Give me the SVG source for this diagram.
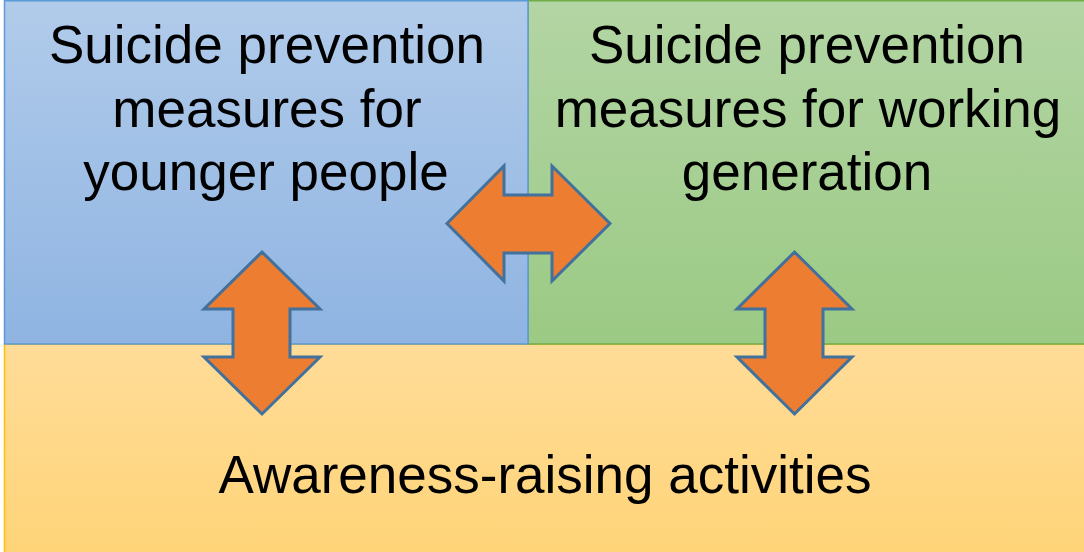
<svg xmlns="http://www.w3.org/2000/svg" width="1084" height="552" viewBox="0 0 1084 552">
  <defs>
    <linearGradient id="gBlue" x1="0" y1="0" x2="0" y2="1">
      <stop offset="0" stop-color="#b1cbea"/>
      <stop offset="1" stop-color="#8fb4e2"/>
    </linearGradient>
    <linearGradient id="gGreen" x1="0" y1="0" x2="0" y2="1">
      <stop offset="0" stop-color="#b3d5a4"/>
      <stop offset="1" stop-color="#9bca84"/>
    </linearGradient>
    <linearGradient id="gYellow" x1="0" y1="0" x2="0" y2="1">
      <stop offset="0" stop-color="#ffdc98"/>
      <stop offset="1" stop-color="#ffd478"/>
    </linearGradient>
    <style>
      .label { font-family: "Liberation Sans", Arial, sans-serif; font-size: 53px; fill: #000; text-anchor: middle; }
      .arrow { fill: #ed7d31; stroke: #41719c; stroke-width: 3; stroke-linejoin: miter; }
    </style>
  </defs>

  <!-- bottom band -->
  <g id="awareness">
    <rect x="4.5" y="344" width="1082" height="210" fill="url(#gYellow)" stroke="#ffc000" stroke-width="1.5"/>
    <text class="label" x="545" y="493">Awareness-raising activities</text>
  </g>

  <!-- upper right block -->
  <g id="working-generation">
    <rect x="528" y="0.75" width="558" height="343.25" fill="url(#gGreen)" stroke="#70ad47" stroke-width="1.5"/>
    <text class="label" x="807" y="63">Suicide prevention</text>
    <text class="label" x="808" y="127">measures for working</text>
    <text class="label" x="807" y="190">generation</text>
  </g>

  <!-- upper left block -->
  <g id="younger-people">
    <rect x="4.5" y="0.75" width="523.5" height="343.25" fill="url(#gBlue)" stroke="#5b9bd5" stroke-width="1.5"/>
    <text class="label" x="267" y="63">Suicide prevention</text>
    <text class="label" x="267" y="127">measures for</text>
    <text class="label" x="266" y="190">younger people</text>
  </g>

  <!-- two-way arrows -->
  <g id="connectors">
    <polygon class="arrow" points="447,223.5 504,166 504,195 552,195 552,166 610,223.5 552,281 552,253 504,253 504,281"/>
    <polygon class="arrow" points="262,252 320,309 290,309 290,357 320,357 262,414 204,357 233,357 233,309 204,309"/>
    <polygon class="arrow" points="794.5,252 852,309 823,309 823,357 852,357 794.5,414 737,357 765,357 765,309 737,309"/>
  </g>
</svg>
